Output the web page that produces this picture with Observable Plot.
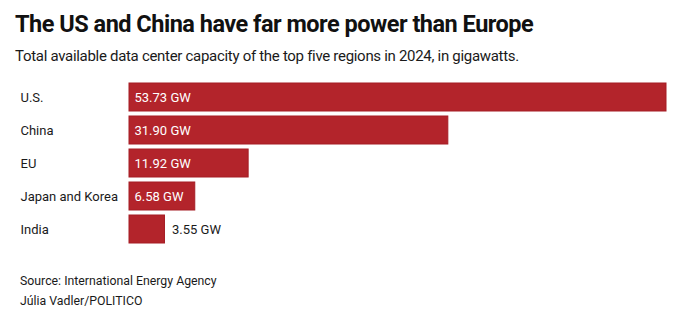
<!DOCTYPE html>
<html>
<head>
<meta charset="utf-8">
<script src="https://cdn.jsdelivr.net/npm/d3@7"></script>
<script src="https://cdn.jsdelivr.net/npm/@observablehq/plot@0.6"></script>
<style>
  html, body { margin: 0; padding: 0; background: #fff; }
  body { width: 690px; height: 309px; font-family: Roboto, "Noto Sans", sans-serif; color: #1a1a1a; position: relative; overflow: hidden; }
  .title, .subtitle, .caption { position: absolute; line-height: 1; white-space: nowrap; }
  .title { left: 15px; top: 13px; font-size: 23.5px; font-weight: 700; letter-spacing: -0.5px; color: #111; }
  .subtitle { left: 15px; top: 49px; font-size: 15px; letter-spacing: -0.3px; color: #1a1a1a; }
  #chart { position: absolute; left: 0; top: 78px; }
  .caption { left: 20px; font-size: 12.3px; color: #1a1a1a; }
</style>
</head>
<body>
<div class="title">The US and China have far more power than Europe</div>
<div class="subtitle">Total available data center capacity of the top five regions in 2024, in gigawatts.</div>
<div id="chart"></div>
<div class="caption" style="top:274.5px">Source: International Energy Agency</div>
<div class="caption" style="top:294.5px">Júlia Vadler/POLITICO</div>
<script>
const regions = ["U.S.", "China", "EU", "Japan and Korea", "India"];
const capacity = [53.73, 31.90, 11.92, 6.58, 3.55];
const unit = "GW";

const rows = regions.map((region, i) => ({region, value: capacity[i]}));
const fmt = v => `${v.toFixed(2)} ${unit}`;
const insideMin = 5; // values below this get their label outside the bar

const chart = Plot.plot({
  width: 690,
  height: 170,
  marginLeft: 129,
  marginRight: 24,
  marginTop: 4,
  marginBottom: 4,
  x: {domain: [0, d3.max(capacity)], axis: null},
  y: {domain: regions, paddingInner: 0.14, paddingOuter: 0, label: null},
  style: {fontFamily: "Roboto, 'Noto Sans', sans-serif", fontSize: "13px", color: "#1a1a1a"},
  marks: [
    Plot.axisY({tickSize: 0, tickPadding: 0, textAnchor: "start", dx: -109, fontSize: 13, fill: "#1a1a1a", label: null}),
    Plot.barX(rows, {x: "value", y: "region", fill: "#b3242b", stroke: "#a51d25", strokeWidth: 1, inset: 0}),
    Plot.text(rows.filter(d => d.value >= insideMin), {x: 0, y: "region", text: d => fmt(d.value), textAnchor: "start", dx: 5, fill: "white", fontSize: 13}),
    Plot.text(rows.filter(d => d.value < insideMin), {x: "value", y: "region", text: d => fmt(d.value), textAnchor: "start", dx: 7, fill: "#1a1a1a", fontSize: 13})
  ]
});
document.getElementById("chart").append(chart);
</script>
</body>
</html>
